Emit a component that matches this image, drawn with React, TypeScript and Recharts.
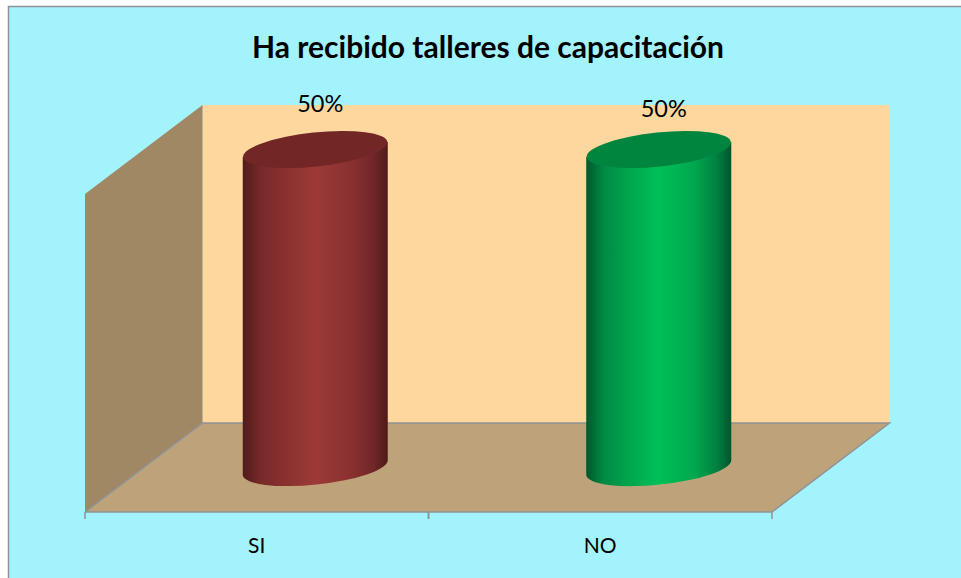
import { BarChart, Bar, XAxis, YAxis, LabelList, usePlotArea } from 'recharts';

const categories = ['SI', 'NO'];
const percentages = [50, 50];
const yMax = 50;

const data = categories.map((name, i) => ({ name, value: percentages[i] }));

const WIDTH = 961;
const HEIGHT = 578;
// 3D look: how far the back wall sits from the front plane
const DEPTH_X = 117.5;
const DEPTH_Y = 89;
const FONT = 'Lato, sans-serif';
const GRAY = '#8f9296';

const barGradients = ['redBody', 'greenBody'];
const topColors = ['#722726', '#00853e'];
const labelShift = [
  { dx: 5, dy: 0 },
  { dx: 5, dy: 5 },
];

const Walls = () => {
  const plot = usePlotArea();
  if (!plot) return null;
  const left = plot.x;
  const right = plot.x + plot.width;
  const top = plot.y;
  const bottom = plot.y + plot.height;
  const backL = left + DEPTH_X;
  const backR = right + DEPTH_X;
  const backT = top - DEPTH_Y;
  const backB = bottom - DEPTH_Y;
  return (
    <g>
      <rect x={8} y={6} width={WIDTH - 8} height={HEIGHT - 6} fill="#a3f3fd" />
      <path d={`M8.5 ${HEIGHT}V6.5H${WIDTH}`} fill="none" stroke={GRAY} strokeWidth={1.5} />
      <text x={488} y={58} textAnchor="middle" fontFamily={FONT} fontWeight={700} fontSize={30} fill="#000">
        Ha recibido talleres de capacitación
      </text>
      <rect x={backL} y={backT} width={backR - backL} height={backB - backT} fill="#fdd79e" />
      <polygon
        points={`${left},${top} ${backL},${backT} ${backL},${backB} ${left},${bottom}`}
        fill="#a08865"
      />
      <polygon
        points={`${left},${bottom} ${backL},${backB} ${backR},${backB} ${right},${bottom}`}
        fill="#bea37a"
      />
      <path
        d={`M${left} ${bottom}L${backL} ${backB}H${backR}L${right} ${bottom}`}
        fill="none"
        stroke={GRAY}
        strokeWidth={1.5}
      />
    </g>
  );
};

const Cylinder = (props: any) => {
  const { x, y, width, height, index } = props;
  const rx = width / 2;
  const ry = 17;
  const tilt = -6;
  const rad = (tilt * Math.PI) / 180;
  const cx = x + rx + DEPTH_X / 2;
  const topY = y - DEPTH_Y / 2;
  const botY = topY + height;
  const sideDy = rx * Math.sin(rad);
  const body =
    `M${cx - rx} ${topY - sideDy}` +
    `L${cx - rx} ${botY - sideDy}` +
    `A${rx} ${ry} ${tilt} 0 0 ${cx + rx} ${botY + sideDy}` +
    `L${cx + rx} ${topY + sideDy}Z`;
  return (
    <g>
      <path d={body} fill={`url(#${barGradients[index]})`} />
      <ellipse
        cx={cx}
        cy={topY}
        rx={rx}
        ry={ry}
        fill={topColors[index]}
        transform={`rotate(${tilt} ${cx} ${topY})`}
      />
    </g>
  );
};

const PercentLabel = (props: any) => {
  const { x, y, width, value, index } = props;
  const shift = labelShift[index];
  return (
    <text
      x={x + width / 2 + DEPTH_X / 2 + shift.dx}
      y={y - DEPTH_Y / 2 - 38 + shift.dy}
      textAnchor="middle"
      fontFamily={FONT}
      fontSize={23.5}
      fill="#000"
    >
      {`${value}%`}
    </text>
  );
};

const AxisTick = (props: any) => {
  const { x, payload } = props;
  const band = (WIDTH - 85 - 189) / categories.length;
  return (
    <g>
      <line x1={x - band / 2} x2={x - band / 2} y1={512} y2={519} stroke={GRAY} strokeWidth={1.5} />
      <line x1={x + band / 2} x2={x + band / 2} y1={512} y2={519} stroke={GRAY} strokeWidth={1.5} />
      <text x={x} y={553} textAnchor="middle" fontFamily={FONT} fontSize={21} fill="#000">
        {payload.value}
      </text>
    </g>
  );
};

export default function App() {
  return (
    <div style={{ position: 'absolute', left: 0, top: 0, width: WIDTH, height: HEIGHT, background: '#fff' }}>
      <BarChart
        width={WIDTH}
        height={HEIGHT}
        data={data}
        margin={{ top: 194, right: 189, bottom: 36, left: 85 }}
      >
        <defs>
          <linearGradient id="redBody" x1="0" y1="0" x2="1" y2="0">
            <stop offset="0" stopColor="#511b1b" />
            <stop offset="0.12" stopColor="#772929" />
            <stop offset="0.3" stopColor="#8b3030" />
            <stop offset="0.5" stopColor="#9c3a38" />
            <stop offset="0.75" stopColor="#8a3030" />
            <stop offset="0.9" stopColor="#702727" />
            <stop offset="1" stopColor="#4f1a1a" />
          </linearGradient>
          <linearGradient id="greenBody" x1="0" y1="0" x2="1" y2="0">
            <stop offset="0" stopColor="#00582d" />
            <stop offset="0.12" stopColor="#008a43" />
            <stop offset="0.3" stopColor="#00a74f" />
            <stop offset="0.5" stopColor="#00bf58" />
            <stop offset="0.75" stopColor="#00a74f" />
            <stop offset="0.9" stopColor="#008040" />
            <stop offset="1" stopColor="#00552c" />
          </linearGradient>
        </defs>
        <Walls />
        <XAxis
          dataKey="name"
          axisLine={{ stroke: GRAY, strokeWidth: 1.5 }}
          tickLine={false}
          tick={<AxisTick />}
          interval={0}
        />
        <YAxis hide domain={[0, yMax]} />
        <Bar dataKey="value" barSize={145} shape={<Cylinder />} isAnimationActive={false}>
          <LabelList dataKey="value" content={<PercentLabel />} />
        </Bar>
      </BarChart>
    </div>
  );
}
